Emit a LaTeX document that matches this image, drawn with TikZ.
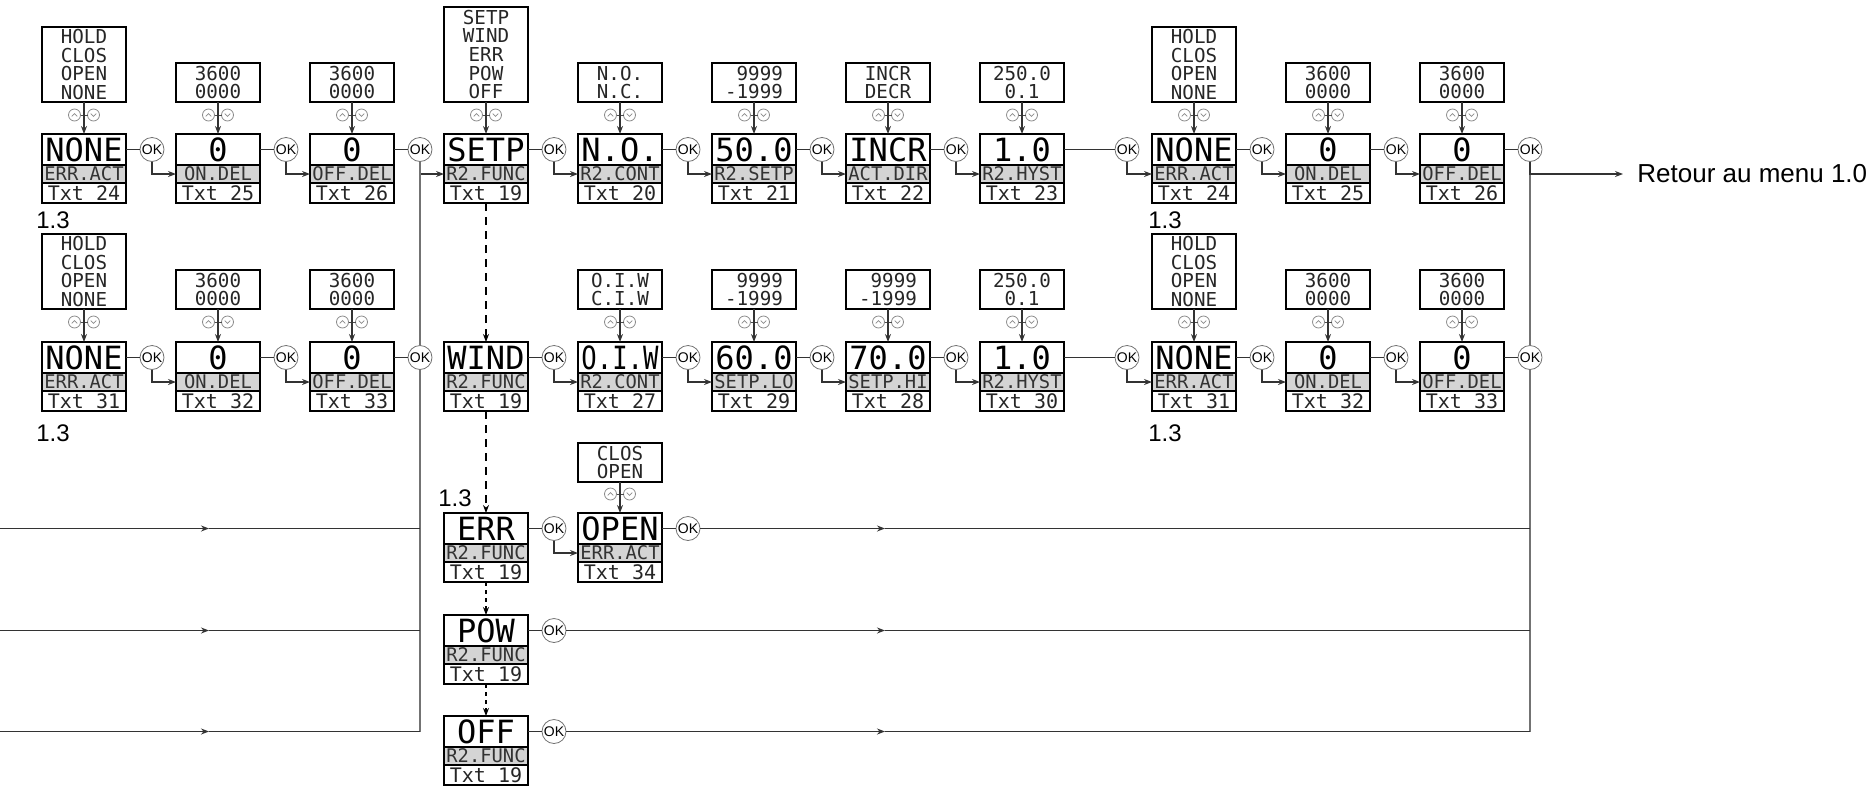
\documentclass[tikz,border=0pt]{standalone}
\usepackage{fontspec}
\setmainfont{Liberation Sans}
\newfontfamily\lcdfont{DejaVu Sans Mono}
\usetikzlibrary{arrows.meta}

\tikzset{
  valbox/.style={draw, line width=0.6pt, fill=white, minimum width=42pt, minimum height=15.5pt,
    inner sep=0pt, outer sep=0pt, font=\lcdfont\fontsize{16}{16}\selectfont},
  labbox/.style={draw, line width=0.6pt, fill=black!17, minimum width=42pt, minimum height=9pt,
    inner sep=0pt, outer sep=0pt, text=black!80, font=\lcdfont\fontsize{9.4}{9.4}\selectfont},
  txtbox/.style={draw, line width=0.6pt, fill=white, minimum width=42pt, minimum height=10pt,
    inner sep=0pt, outer sep=0pt, text=black!85, font=\lcdfont\fontsize{10}{10}\selectfont},
  optbox/.style={draw, line width=0.6pt, fill=white, minimum width=42pt, inner sep=0pt, outer sep=0pt,
    align=center, text=black!85, font=\lcdfont\fontsize{9.6}{9.3}\selectfont},
  okc/.style={circle, draw=black!55, fill=white, line width=0.4pt, minimum size=12pt, inner sep=0pt,
    font=\fontsize{7}{7}\selectfont},
  conn/.style={draw=black!80, line width=0.65pt},
  arr/.style={conn, -{Stealth[length=4pt,width=3pt]}},
  vline/.style={draw=black!55, line width=1pt},
  dasharr/.style={draw=black, line width=0.65pt, dash pattern=on 4pt off 3pt, -{Stealth[length=4pt,width=3pt]}},
  dotarr/.style={draw=black, line width=0.65pt, dash pattern=on 2.2pt off 1.8pt, -{Stealth[length=4pt,width=3pt]}},
  udc/.style={draw=black!45, line width=0.4pt},
  num/.style={inner sep=0pt, font=\fontsize{12}{12}\selectfont},
}

\newcommand{\lcdnode}[6]{%
  \node[valbox] (#1v) at ({#2+42},{#3+15.5}) {#4};
  \node[labbox,anchor=north] (#1l) at (#1v.south) {#5};
  \node[txtbox,anchor=north] (#1t) at (#1l.south) {#6};
}
\newcommand{\thicksep}[1]{%
  \draw[line width=1.2pt] (#1l.south west) -- (#1l.south east);
}
\newcommand{\optnode}[5]{%
  \node[optbox,minimum height=#4,anchor=south] (#1) at (#2,#3) {#5};
}
\newcommand{\udmark}[2]{%
  \draw[udc, fill=white] ({#1-9.5},#2) circle[radius=3pt] ({#1+9.5},#2) circle[radius=3pt];
  \draw[udc] ({#1-12.3},{#2+1.4}) -- ({#1-9.5},{#2-1.4}) -- ({#1-6.7},{#2+1.4});
  \draw[udc] ({#1+6.7},{#2-1.4}) -- ({#1+9.5},{#2+1.4}) -- ({#1+12.3},{#2-1.4});
  \draw[draw=black!70, line width=0.4pt] ({#1-3.5},#2) -- ({#1+3.5},#2);
}

\begin{document}
\begin{tikzpicture}[x=0.5pt, y=-0.5pt]
\useasboundingbox (0,0) rectangle (1876,788);

% ---------- row 1 ----------
\lcdnode{a1}{42}{134}{NONE}{ERR.ACT}{Txt 24}
\lcdnode{a2}{176}{134}{0}{ON.DEL}{Txt 25}
\lcdnode{a3}{310}{134}{0}{OFF.DEL}{Txt 26}
\lcdnode{a4}{444}{134}{SETP}{R2.FUNC}{Txt 19}
\lcdnode{a5}{578}{134}{N.O.}{R2.CONT}{Txt 20}
\lcdnode{a6}{712}{134}{50.0}{R2.SETP}{Txt 21}
\lcdnode{a7}{846}{134}{INCR}{ACT.DIR}{Txt 22}
\lcdnode{a8}{980}{134}{1.0}{R2.HYST}{Txt 23}
\lcdnode{a9}{1152}{134}{NONE}{ERR.ACT}{Txt 24}
\lcdnode{a10}{1286}{134}{0}{ON.DEL}{Txt 25}
\lcdnode{a11}{1420}{134}{0}{OFF.DEL}{Txt 26}

\optnode{oa1}{84}{102}{37.5pt}{HOLD\\CLOS\\OPEN\\NONE}
\optnode{oa2}{218}{102}{19.5pt}{3600\\0000}
\optnode{oa3}{352}{102}{19.5pt}{3600\\0000}
\optnode{oa4}{486}{102}{47.5pt}{SETP\\WIND\\ERR\\POW\\OFF}
\optnode{oa5}{620}{102}{19.5pt}{N.O.\\N.C.}
\optnode{oa6}{754}{102}{19.5pt}{\hphantom{-}9999\\-1999}
\optnode{oa7}{888}{102}{19.5pt}{INCR\\DECR}
\optnode{oa8}{1022}{102}{19.5pt}{250.0\\0.1}
\optnode{oa9}{1194}{102}{37.5pt}{HOLD\\CLOS\\OPEN\\NONE}
\optnode{oa10}{1328}{102}{19.5pt}{3600\\0000}
\optnode{oa11}{1462}{102}{19.5pt}{3600\\0000}

\foreach \c/\xc in {1/84,2/218,3/352,4/486,5/620,6/754,7/888,8/1022,9/1194,10/1328,11/1462}{
  \udmark{\xc}{115}
  \draw[arr] (oa\c.south) -- (a\c v.north);
}

% ---------- row 2 ----------
\lcdnode{b1}{42}{342}{NONE}{ERR.ACT}{Txt 31}
\lcdnode{b2}{176}{342}{0}{ON.DEL}{Txt 32}
\lcdnode{b3}{310}{342}{0}{OFF.DEL}{Txt 33}
\lcdnode{b4}{444}{342}{WIND}{R2.FUNC}{Txt 19}
\lcdnode{b5}{578}{342}{\scalebox{0.8}[1]{O.I.W}}{R2.CONT}{Txt 27}
\lcdnode{b6}{712}{342}{60.0}{SETP.LO}{Txt 29}
\lcdnode{b7}{846}{342}{70.0}{SETP.HI}{Txt 28}
\lcdnode{b8}{980}{342}{1.0}{R2.HYST}{Txt 30}
\lcdnode{b9}{1152}{342}{NONE}{ERR.ACT}{Txt 31}
\lcdnode{b10}{1286}{342}{0}{ON.DEL}{Txt 32}
\lcdnode{b11}{1420}{342}{0}{OFF.DEL}{Txt 33}
\foreach \c in {1,...,11}{\thicksep{b\c}}

\optnode{ob1}{84}{309}{37.5pt}{HOLD\\CLOS\\OPEN\\NONE}
\optnode{ob2}{218}{309}{19.5pt}{3600\\0000}
\optnode{ob3}{352}{309}{19.5pt}{3600\\0000}
\optnode{ob5}{620}{309}{19.5pt}{O.I.W\\C.I.W}
\optnode{ob6}{754}{309}{19.5pt}{\hphantom{-}9999\\-1999}
\optnode{ob7}{888}{309}{19.5pt}{\hphantom{-}9999\\-1999}
\optnode{ob8}{1022}{309}{19.5pt}{250.0\\0.1}
\optnode{ob9}{1194}{309}{37.5pt}{HOLD\\CLOS\\OPEN\\NONE}
\optnode{ob10}{1328}{309}{19.5pt}{3600\\0000}
\optnode{ob11}{1462}{309}{19.5pt}{3600\\0000}

\foreach \c/\xc in {1/84,2/218,3/352,5/620,6/754,7/888,8/1022,9/1194,10/1328,11/1462}{
  \udmark{\xc}{322}
  \draw[arr] (ob\c.south) -- (b\c v.north);
}

% ---------- ERR / POW / OFF ----------
\lcdnode{ce}{444}{513}{ERR}{R2.FUNC}{Txt 19}
\lcdnode{co}{578}{513}{OPEN}{ERR.ACT}{Txt 34}
\lcdnode{cp}{444}{615}{POW}{R2.FUNC}{Txt 19}
\lcdnode{cf}{444}{716}{OFF}{R2.FUNC}{Txt 19}
\optnode{oco}{620}{482}{19.5pt}{CLOS\\OPEN}
\udmark{620}{494}
\draw[arr] (oco.south) -- (cov.north);

% ---------- OK buttons ----------
\foreach \c/\xc in {1/152,2/286,3/420,4/554,5/688,6/822,7/956,8/1127,9/1262,10/1396,11/1530}{
  \node[okc] (ka\c) at (\xc,149.5) {OK};
  \node[okc] (kb\c) at (\xc,357.5) {OK};
}
\node[okc] (kce) at (554,528.5) {OK};
\node[okc] (kco) at (688,528.5) {OK};
\node[okc] (kcp) at (554,630.5) {OK};
\node[okc] (kcf) at (554,731.5) {OK};

% ---------- row connectors ----------
\foreach \c/\n in {1/2,2/3,3/4,4/5,5/6,6/7,7/8,8/9,9/10,10/11}{
  \draw[conn] (a\c v.east) -- (ka\c.west);
  \draw[arr] (ka\c.south) |- (a\n l.west);
}
\draw[conn] (a11v.east) -- (ka11.west);
\foreach \c/\n in {1/2,2/3,4/5,5/6,6/7,7/8,8/9,9/10,10/11}{
  \draw[conn] (b\c v.east) -- (kb\c.west);
  \draw[arr] (kb\c.south) |- (b\n l.west);
}
\draw[conn] (b3v.east) -- (kb3.west);
\draw[conn] (b11v.east) -- (kb11.west);

\draw[conn] (cev.east) -- (kce.west);
\draw[arr] (kce.south) |- (col.west);
\draw[conn] (cov.east) -- (kco.west);
\draw[conn] (cpv.east) -- (kcp.west);
\draw[conn] (cfv.east) -- (kcf.west);

% ---------- dashed flow ----------
\draw[dasharr] (a4t.south) -- (b4v.north);
\draw[dasharr] (b4t.south) -- (cev.north);
\draw[dotarr] (cet.south) -- (cpv.north);
\draw[dotarr] (cpt.south) -- (cfv.north);

% ---------- left bus ----------
\coordinate (lj3) at (420,731.5);
\draw[vline] (ka3.south) -- (kb3.north);
\draw[vline] (kb3.south) -- (lj3);
\foreach \n/\yy in {e/528.5,p/630.5,f/731.5}{
  \coordinate (lin\n) at (0,\yy);
  \coordinate (lmid\n) at (209,\yy);
  \coordinate (lend\n) at (420,\yy);
  \draw[arr] (lin\n) -- (lmid\n);
  \draw[conn] (lmid\n) -- (lend\n);
}

% ---------- right bus ----------
\coordinate (rj3) at (1530,731.5);
\draw[vline] (ka11.south) -- (kb11.north);
\draw[vline] (kb11.south) -- (rj3);
\foreach \k/\yy in {co/528.5,cp/630.5,cf/731.5}{
  \coordinate (rmid\k) at (885,\yy);
  \coordinate (rend\k) at (1530,\yy);
  \draw[arr] (k\k.east) -- (rmid\k);
  \draw[conn] (rmid\k) -- (rend\k);
}

\node[anchor=west, inner xsep=7pt, inner ysep=0pt, font=\fontsize{13}{13}\selectfont] (ret) at (1623,174) {Retour au menu 1.0};
\draw[arr] (ka11.south) |- (ret.west);

% ---------- labels 1.3 ----------
\node[num] (n1) at (53,220) {1.3};
\node[num] (n2) at (53,433) {1.3};
\node[num] (n3) at (1165,220) {1.3};
\node[num] (n4) at (1165,433) {1.3};
\node[num] (n5) at (455,498) {1.3};

\end{tikzpicture}
\end{document}
